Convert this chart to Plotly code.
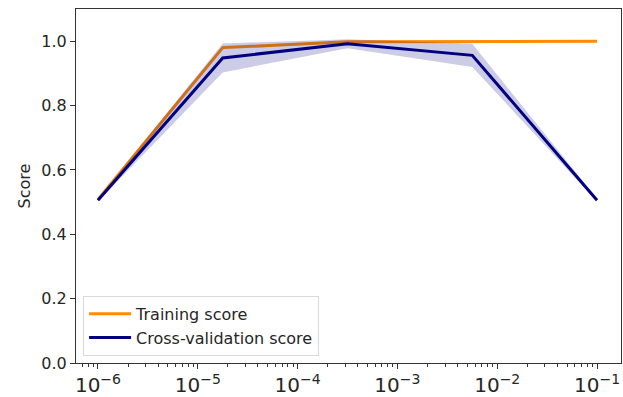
import numpy as np
import plotly.graph_objects as go

param_range = [1e-6, 10**-4.75, 10**-3.5, 10**-2.25, 1e-1]
train_mean = [0.508, 0.980, 0.998, 1.000, 1.000]
train_std = [0.004, 0.006, 0.002, 0.000, 0.000]
cv_mean = [0.506, 0.948, 0.992, 0.956, 0.506]
cv_std = [0.004, 0.045, 0.014, 0.036, 0.004]
title_text = "Validation Curve with SVM"

x = list(param_range)
xr = x[::-1]

def band(mean, std):
    up = [m + s for m, s in zip(mean, std)]
    lo = [m - s for m, s in zip(mean, std)]
    return up + lo[::-1]

fig = go.Figure()
fig.add_trace(go.Scatter(x=x + xr, y=band(train_mean, train_std), fill="toself", mode="lines",
                         fillcolor="rgba(255,140,0,0.2)", line=dict(width=0),
                         showlegend=False, hoverinfo="skip"))
fig.add_trace(go.Scatter(x=x, y=train_mean, mode="lines", name="Training score",
                         line=dict(color="#FF8C00", width=3)))
fig.add_trace(go.Scatter(x=x + xr, y=band(cv_mean, cv_std), fill="toself", mode="lines",
                         fillcolor="rgba(0,0,128,0.2)", line=dict(width=0),
                         showlegend=False, hoverinfo="skip"))
fig.add_trace(go.Scatter(x=x, y=cv_mean, mode="lines", name="Cross-validation score",
                         line=dict(color="#000080", width=3)))

fig.update_layout(
    width=623, height=397,
    margin=dict(l=76, r=2, t=9, b=34, autoexpand=False),
    paper_bgcolor="white", plot_bgcolor="white",
    font=dict(family="DejaVu Sans", size=16, color="#262626"),
    legend=dict(x=0.013, y=0.02, xanchor="left", yanchor="bottom",
                bgcolor="rgba(255,255,255,0.8)", bordercolor="#d9d9d9", borderwidth=1,
                font=dict(size=16), tracegroupgap=0, itemwidth=42),
    annotations=[dict(text=title_text, xref="paper", yref="paper", x=0.5, y=1.0,
                      xanchor="center", yanchor="bottom", yshift=4, showarrow=False,
                      font=dict(size=18, color="#262626"))],
)
fig.update_xaxes(type="log", range=[-6.22, -0.76], dtick=1, exponentformat="power",
                 automargin=False, tickfont=dict(size=16),
                 showgrid=False, zeroline=False, showline=True, linecolor="#333333",
                 linewidth=1.2, mirror=True, ticks="outside", ticklen=5, tickcolor="#333333",
                 minor=dict(ticks="outside", ticklen=2.5, tickcolor="#333333", showgrid=False))
fig.update_yaxes(range=[0, 1.1], dtick=0.2, tickformat=".1f", automargin=False,
                 title=dict(text="Score", standoff=6, font=dict(size=16)), tickfont=dict(size=16),
                 showgrid=False, zeroline=False, showline=True, linecolor="#333333",
                 linewidth=1.2, mirror=True, ticks="outside", ticklen=5, tickcolor="#333333")

fig.write_html("out.html", config={"displayModeBar": False},
               post_script="document.body.style.margin='0';")
